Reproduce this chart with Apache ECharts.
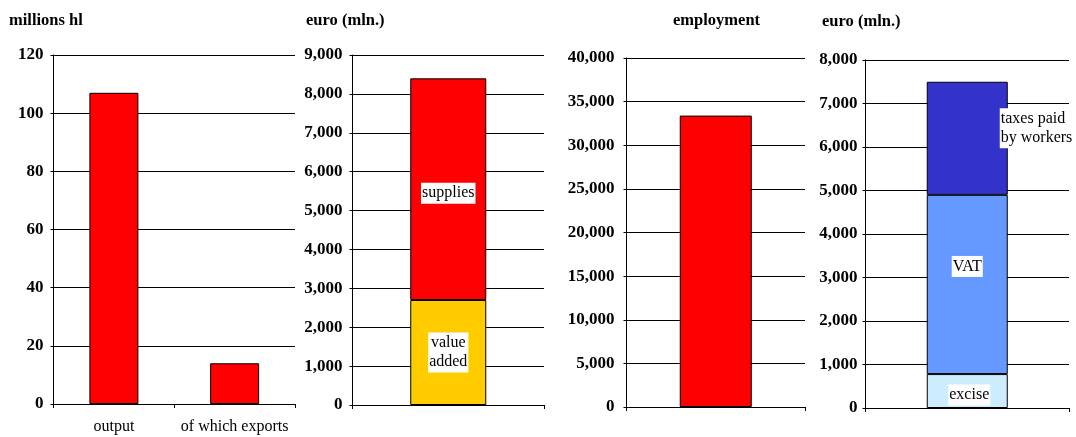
<!DOCTYPE html>
<html><head><meta charset="utf-8">
<script src="https://cdn.jsdelivr.net/npm/echarts@6/dist/echarts.min.js"></script>
<style>html,body{margin:0;padding:0;background:#fff}#c{width:1076px;height:437px}</style>
</head><body><div id="c"></div>
<script>
// ---- data ----
const titles = ['millions hl', 'euro (mln.)', 'employment', 'euro (mln.)'];
const volCats = ['output', 'of which exports'];
const volValues = [107, 14];
const valueCats = [''];
const valueAdded = [2700];
const supplies = [5700];
const empCats = [''];
const employment = [33400];
const taxCats = [''];
const excise = [780];
const vat = [4120];
const workerTaxes = [2600];
const segLabels = {valueAdded: 'value\nadded', supplies: 'supplies', excise: 'excise', vat: 'VAT', workerTaxes: 'taxes paid\nby workers'};
const yMax = [120, 9000, 40000, 8000];
const yStep = [20, 1000, 5000, 1000];

// ---- style ----
const FONT = 'Liberation Serif';
const grids = [
  {left: 53.5, top: 55, width: 241.5, height: 349},
  {left: 352.5, top: 55, width: 191.5, height: 350},
  {left: 626.5, top: 58, width: 178.5, height: 349},
  {left: 865.5, top: 60, width: 203.5, height: 348}
];
const labelMargins = [10, 10, 12, 8];
const fmt = v => v.toLocaleString('en-US');
const catData = [volCats, valueCats, empCats, taxCats];

const xAxis = catData.map((d, i) => ({
  type: 'category', gridIndex: i, data: d,
  axisLine: {lineStyle: {color: '#000', width: 1}},
  axisTick: {show: true, length: 4, lineStyle: {color: '#000'}},
  axisLabel: {color: '#000', fontFamily: FONT, fontSize: 16, margin: 15, interval: 0}
}));
const yAxis = yMax.map((m, i) => ({
  type: 'value', gridIndex: i, min: 0, max: m, interval: yStep[i],
  axisLine: {show: true, lineStyle: {color: '#000', width: 1}},
  axisTick: {show: true, length: 3, lineStyle: {color: '#000'}},
  splitLine: {show: true, lineStyle: {color: '#000', width: 1}},
  axisLabel: {color: '#000', fontFamily: FONT, fontSize: 17, fontWeight: 'bold', margin: labelMargins[i], formatter: fmt, padding: [3, 0, 0, 0]}
}));
const segLabel = (text, extra) => Object.assign({
  show: true, position: 'inside', formatter: text, color: '#000',
  fontFamily: FONT, fontSize: 16, backgroundColor: '#fff', padding: [1, 1], lineHeight: 19
}, extra || {});
const border = {borderColor: '#000', borderWidth: 1};

const option = {
  animation: false,
  backgroundColor: '#fff',
  title: [
    {text: titles[0], left: 9, top: 12},
    {text: titles[1], left: 306, top: 12},
    {text: titles[2], left: 673, top: 12},
    {text: titles[3], left: 822, top: 13}
  ].map(t => Object.assign(t, {padding: 0, textStyle: {fontFamily: FONT, fontSize: 16.5, fontWeight: 'bold', color: '#000'}})),
  grid: grids,
  xAxis: xAxis,
  yAxis: yAxis,
  series: [
    {type: 'bar', xAxisIndex: 0, yAxisIndex: 0, data: volValues, barWidth: 49,
     itemStyle: Object.assign({color: '#FF0000'}, border)},
    {type: 'bar', xAxisIndex: 1, yAxisIndex: 1, stack: 'v', data: valueAdded, barWidth: 76,
     itemStyle: Object.assign({color: '#FFCC00'}, border), label: segLabel(segLabels.valueAdded)},
    {type: 'bar', xAxisIndex: 1, yAxisIndex: 1, stack: 'v', data: supplies, barWidth: 76,
     itemStyle: Object.assign({color: '#FF0000'}, border), label: segLabel(segLabels.supplies, {offset: [0, 4]})},
    {type: 'bar', xAxisIndex: 2, yAxisIndex: 2, data: employment, barWidth: 72,
     itemStyle: Object.assign({color: '#FF0000'}, border)},
    {type: 'bar', xAxisIndex: 3, yAxisIndex: 3, stack: 't', data: excise, barWidth: 81,
     itemStyle: Object.assign({color: '#CCECFF'}, border), label: segLabel(segLabels.excise, {offset: [2, 4]})},
    {type: 'bar', xAxisIndex: 3, yAxisIndex: 3, stack: 't', data: vat, barWidth: 81,
     itemStyle: Object.assign({color: '#6699FF'}, border), label: segLabel(segLabels.vat, {offset: [0, -18]})},
    {type: 'bar', xAxisIndex: 3, yAxisIndex: 3, stack: 't', data: workerTaxes, barWidth: 81,
     itemStyle: Object.assign({color: '#3333CC'}, border),
     label: segLabel(segLabels.workerTaxes, {position: 'right', distance: 0, offset: [-8, -10], align: 'left'})}
  ]
};
const chart = echarts.init(document.getElementById('c'), null, {renderer: 'canvas'});
chart.setOption(option);
</script></body></html>
